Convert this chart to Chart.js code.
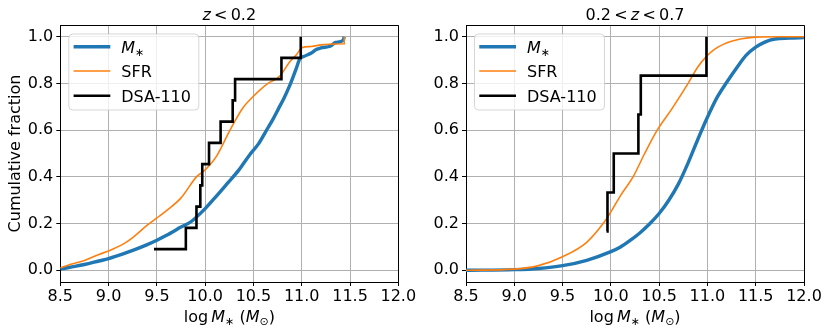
<!DOCTYPE html>
<html><head><meta charset="utf-8">
<script src="https://cdn.jsdelivr.net/npm/chart.js@4.4.1/dist/chart.umd.min.js"></script>
<style>
html,body{margin:0;padding:0;background:#fff;width:830px;height:334px;overflow:hidden;position:relative}
canvas{position:absolute;top:0}
#c1{left:0}
#c2{left:415px}
</style></head><body>
<canvas id="c1" width="420" height="334"></canvas>
<canvas id="c2" width="415" height="334"></canvas>
<script>
// ---------- tick labels ----------
const xTicks = [8.5, 9.0, 9.5, 10.0, 10.5, 11.0, 11.5, 12.0];
const yTicks = [0.0, 0.2, 0.4, 0.6, 0.8, 1.0];
const seriesLabels = ['M∗', 'SFR', 'DSA-110'];

// ---------- left panel: z < 0.2 ----------
const lowzMstarX = [8.5, 8.6, 8.75, 8.9, 9.0, 9.15, 9.25, 9.4, 9.5, 9.6, 9.75, 9.86, 10.0, 10.1, 10.23, 10.35, 10.46, 10.55, 10.636, 10.7, 10.757, 10.82, 10.885, 10.94, 10.98, 11.02, 11.1, 11.15, 11.2, 11.3, 11.35, 11.43, 11.44];
const lowzMstarY = [0.005, 0.013, 0.025, 0.04, 0.05, 0.07, 0.085, 0.11, 0.129, 0.15, 0.185, 0.21, 0.264, 0.31, 0.372, 0.43, 0.494, 0.54, 0.6, 0.645, 0.69, 0.74, 0.8, 0.86, 0.905, 0.915, 0.93, 0.945, 0.952, 0.96, 0.975, 0.985, 1.0];
const lowzSfrX = [8.5, 8.6, 8.75, 8.9, 9.0, 9.15, 9.25, 9.4, 9.5, 9.6, 9.75, 9.91, 10.0, 10.12, 10.257, 10.39, 10.5, 10.65, 10.77, 10.88, 10.95, 11.0, 11.1, 11.2, 11.3, 11.44, 11.44];
const lowzSfrY = [0.01, 0.025, 0.042, 0.068, 0.083, 0.112, 0.14, 0.193, 0.224, 0.255, 0.31, 0.4, 0.43, 0.49, 0.6, 0.695, 0.745, 0.8, 0.83, 0.895, 0.925, 0.953, 0.958, 0.965, 0.968, 0.97, 1.0];
const lowzDsaX = [9.47, 9.80, 9.91, 9.95, 9.97, 10.04, 10.16, 10.285, 10.31, 10.79, 10.99];
const lowzDsaY = [0.0909, 0.1818, 0.2727, 0.3636, 0.4545, 0.5455, 0.6364, 0.7273, 0.8182, 0.9091, 1.0];

// ---------- right panel: 0.2 < z < 0.7 ----------
const midzMstarX = [8.5, 9.0, 9.25, 9.5, 9.75, 10.0, 10.1, 10.2, 10.3, 10.4, 10.5, 10.6, 10.7, 10.8, 10.9, 11.0, 11.1, 11.2, 11.3, 11.4, 11.5, 11.6, 11.7, 11.85, 12.0];
const midzMstarY = [0.0, 0.003, 0.008, 0.02, 0.043, 0.08, 0.1, 0.128, 0.16, 0.198, 0.243, 0.3, 0.37, 0.46, 0.56, 0.655, 0.74, 0.805, 0.865, 0.92, 0.955, 0.978, 0.99, 0.994, 0.996];
const midzSfrX = [8.5, 9.0, 9.25, 9.5, 9.75, 9.92, 10.0, 10.1, 10.23, 10.35, 10.48, 10.63, 10.8, 10.9, 11.0, 11.08, 11.165, 11.25, 11.34, 11.5, 11.75, 12.0];
const midzSfrY = [0.0, 0.005, 0.02, 0.058, 0.12, 0.2, 0.25, 0.32, 0.4, 0.5, 0.6, 0.69, 0.8, 0.87, 0.92, 0.948, 0.967, 0.98, 0.99, 0.998, 1.0, 1.0];
const midzDsaX = [9.955, 9.965, 10.03, 10.285, 10.31, 10.99];
const midzDsaY = [0.1667, 0.3333, 0.5, 0.6667, 0.8333, 1.0];

// ---------- rendering helpers ----------
const FAM = "'DejaVu Sans', sans-serif";
const FS = 16;
function pts(xs, ys) { return xs.map((x, i) => ({ x: x, y: ys[i] })); }
function fontFor(s, size) {
  const sz = s.sub ? Math.round(size * 0.7) : size;
  return (s.it ? 'italic ' : '') + sz + 'px ' + FAM;
}
function richWidth(ctx, segs, size) {
  let w = 0;
  for (const s of segs) { ctx.font = fontFor(s, size); w += ctx.measureText(s.t).width; }
  return w;
}
function drawRich(ctx, segs, x, base, size, align) {
  const w = richWidth(ctx, segs, size);
  let cx = align === 'center' ? x - w / 2 : x;
  ctx.textAlign = 'left';
  ctx.textBaseline = 'alphabetic';
  for (const s of segs) {
    ctx.font = fontFor(s, size);
    ctx.fillText(s.t, cx, base + (s.sub ? size * 0.2 : 0));
    cx += ctx.measureText(s.t).width;
  }
}
function labelSegs(label) {
  if (label === 'M∗') return [{ t: 'M', it: true }, { t: '∗', sub: true }];
  return [{ t: label }];
}
const TS = '\u2009';
const xLabelSegs = [{ t: 'log' + TS }, { t: 'M', it: true }, { t: '∗', sub: true }, { t: ' (' }, { t: 'M', it: true }, { t: '⊙', sub: true }, { t: ')' }];

const decorPlugin = {
  id: 'decor',
  afterDraw(chart, args, opts) {
    const ctx = chart.ctx, a = chart.chartArea;
    ctx.save();
    ctx.strokeStyle = '#000';
    ctx.lineWidth = 1;
    ctx.beginPath();
    ctx.moveTo(Math.round(a.left), Math.round(a.top) + 0.5);
    ctx.lineTo(Math.round(a.right) + 0.5, Math.round(a.top) + 0.5);
    ctx.lineTo(Math.round(a.right) + 0.5, Math.round(a.bottom));
    ctx.stroke();
    ctx.fillStyle = '#000';
    drawRich(ctx, opts.title, (a.left + a.right) / 2, 19.5, FS, 'center');
    drawRich(ctx, xLabelSegs, (a.left + a.right) / 2, 321.5, FS, 'center');
    if (opts.yLabel) {
      ctx.save();
      ctx.translate(20, (a.top + a.bottom) / 2);
      ctx.rotate(-Math.PI / 2);
      ctx.font = FS + 'px ' + FAM;
      ctx.textAlign = 'center';
      ctx.textBaseline = 'alphabetic';
      ctx.fillText(opts.yLabel, 0, 0);
      ctx.restore();
    }
    const lx = a.left + 8.5, ly = 34, lw = 130, lh = 76, r = 4;
    ctx.beginPath();
    ctx.moveTo(lx + r, ly);
    ctx.arcTo(lx + lw, ly, lx + lw, ly + lh, r);
    ctx.arcTo(lx + lw, ly + lh, lx, ly + lh, r);
    ctx.arcTo(lx, ly + lh, lx, ly, r);
    ctx.arcTo(lx, ly, lx + lw, ly, r);
    ctx.closePath();
    ctx.fillStyle = 'rgba(255,255,255,0.8)';
    ctx.fill();
    ctx.strokeStyle = 'rgba(204,204,204,0.8)';
    ctx.lineWidth = 1;
    ctx.stroke();
    const rows = [12.7, 37, 61.7];
    chart.data.datasets.forEach((ds, i) => {
      const yy = ly + rows[i];
      ctx.strokeStyle = ds.borderColor;
      ctx.lineWidth = ds.borderWidth;
      ctx.beginPath();
      ctx.moveTo(lx + 4.8, yy);
      ctx.lineTo(lx + 41.5, yy);
      ctx.stroke();
      ctx.fillStyle = '#000';
      drawRich(ctx, labelSegs(ds.label), lx + 52.5, yy + 5.8, FS, 'left');
    });
    ctx.restore();
  }
};

function makeChart(id, cfg) {
  const tickFont = { family: FAM, size: FS };
  return new Chart(document.getElementById(id), {
    type: 'line',
    data: {
      datasets: [
        { label: seriesLabels[0], data: pts(cfg.mx, cfg.my), borderColor: '#1f77b4', borderWidth: 3.4, pointRadius: 0, cubicInterpolationMode: 'monotone', fill: false, order: 3 },
        { label: seriesLabels[1], data: pts(cfg.sx, cfg.sy), borderColor: '#ff7f0e', borderWidth: 1.6, pointRadius: 0, cubicInterpolationMode: 'monotone', fill: false, order: 2 },
        { label: seriesLabels[2], data: pts(cfg.dx, cfg.dy), borderColor: '#000000', borderWidth: 2.6, pointRadius: 0, stepped: 'before', fill: false, order: 1 }
      ]
    },
    options: {
      responsive: false,
      animation: false,
      devicePixelRatio: 1,
      layout: { padding: { top: 25, right: cfg.padRight, left: 0, bottom: 0 } },
      plugins: {
        legend: { display: false },
        tooltip: { enabled: false },
        decor: { title: cfg.title, yLabel: cfg.yLabel }
      },
      scales: {
        x: {
          type: 'linear', min: 8.5, max: 12.0,
          afterBuildTicks: s => { s.ticks = xTicks.map(v => ({ value: v })); },
          afterFit: s => { s.height = 52; s.paddingLeft = 0; s.paddingRight = 0; },
          ticks: { font: tickFont, color: '#000', padding: 1, maxRotation: 0, autoSkip: false, callback: v => Number(v).toFixed(1) },
          grid: { color: '#b0b0b0', lineWidth: 1, tickColor: '#000', tickLength: 4, tickWidth: 1 },
          border: { color: '#000', width: 1 }
        },
        y: {
          type: 'linear', min: -0.05, max: 1.05,
          afterBuildTicks: s => { s.ticks = yTicks.map(v => ({ value: v })); },
          afterFit: s => { s.width = cfg.yWidth; s.paddingTop = 0; s.paddingBottom = 0; },
          ticks: { font: tickFont, color: '#000', padding: 3, autoSkip: false, callback: v => Number(v).toFixed(1) },
          grid: { color: '#b0b0b0', lineWidth: 1, tickColor: '#000', tickLength: 4, tickWidth: 1 },
          border: { color: '#000', width: 1 }
        }
      }
    },
    plugins: [decorPlugin]
  });
}

makeChart('c1', {
  mx: lowzMstarX, my: lowzMstarY, sx: lowzSfrX, sy: lowzSfrY, dx: lowzDsaX, dy: lowzDsaY,
  padRight: 21.7, yWidth: 60.3,
  title: [{ t: 'z', it: true }, { t: TS + '<' + TS + '0.2' }],
  yLabel: 'Cumulative fraction'
});
makeChart('c2', {
  mx: midzMstarX, my: midzMstarY, sx: midzSfrX, sy: midzSfrY, dx: midzDsaX, dy: midzDsaY,
  padRight: 26, yWidth: 51,
  title: [{ t: '0.2' + TS + '<' + TS }, { t: 'z', it: true }, { t: TS + '<' + TS + '0.7' }],
  yLabel: null
});
</script>
</body></html>
